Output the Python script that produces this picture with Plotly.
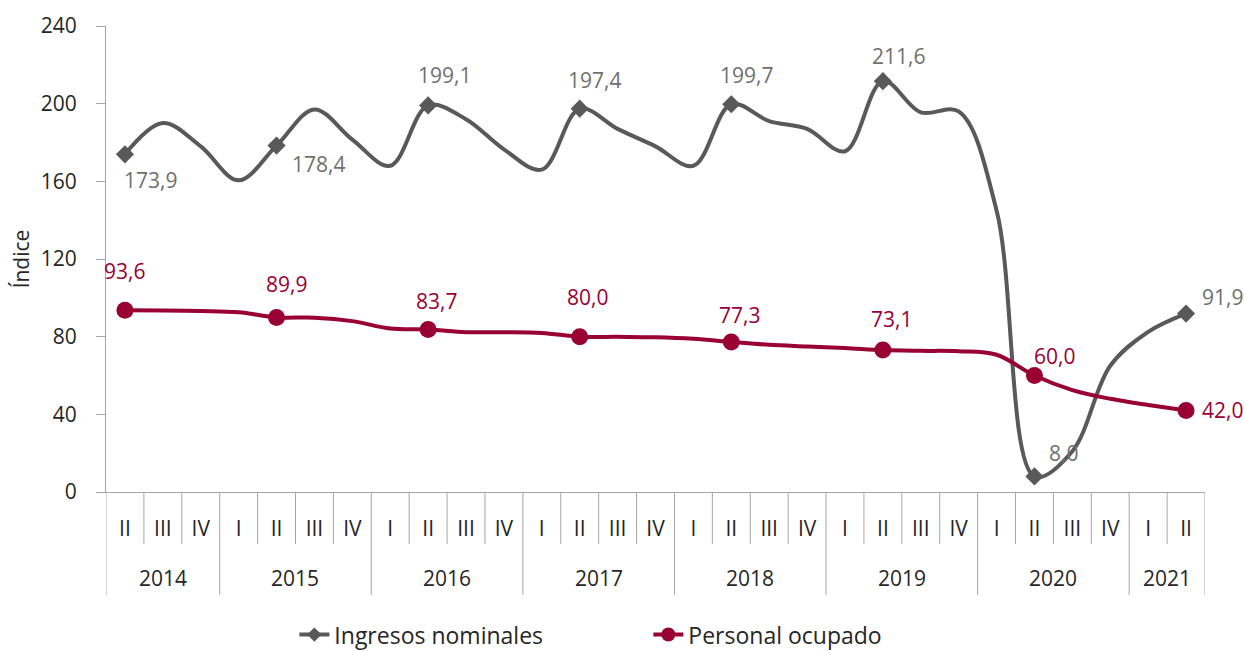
import plotly.graph_objects as go

years = ["2014"] * 3 + [y for y in ["2015", "2016", "2017", "2018", "2019", "2020"] for _ in range(4)] + ["2021"] * 2
quarters = ["II", "III", "IV"] + ["I", "II", "III", "IV"] * 6 + ["I", "II"]

ingresos = [173.9, 190.0, 178.0, 160.5, 178.4, 197.0, 181.5, 168.0, 199.1, 192.0, 176.5, 166.0,
            197.4, 187.0, 178.0, 168.0, 199.7, 191.0, 187.0, 175.5, 211.6, 195.5, 196.0, 145.0,
            8.0, 21.0, 65.0, 82.5, 91.9]
personal = [93.6, 93.5, 93.2, 92.6, 89.9, 89.8, 88.0, 84.2, 83.7, 82.3, 82.3, 81.9,
            80.0, 79.9, 79.7, 78.9, 77.3, 75.8, 75.0, 74.2, 73.1, 72.7, 72.5, 70.7,
            60.0, 52.5, 48.0, 44.8, 42.0]

y_ticks = [0, 40, 80, 120, 160, 200, 240]

GRAY = "#595959"
GRAY_TXT = "#6f6f6f"
RED = "#990033"
AXIS = "#a6a6a6"
TXT = "#262626"
FONT = "Open Sans"
FS = 21

idx = list(range(len(quarters)))
marked = [i for i, q in enumerate(quarters) if q == "II"]
PLOT_H = 466  # plot area height in px (for paper-coordinate offsets below the axis)

def fmt(v):
    return f"{v:.1f}".replace(".", ",")

fig = go.Figure()

fig.add_trace(go.Scatter(x=idx, y=ingresos, mode="lines", line=dict(color=GRAY, width=4, shape="spline", smoothing=1.0),
                         showlegend=False, hoverinfo="skip"))
fig.add_trace(go.Scatter(x=idx, y=personal, mode="lines", line=dict(color=RED, width=4, shape="spline", smoothing=1.0),
                         showlegend=False, hoverinfo="skip"))

fig.add_trace(go.Scatter(x=marked, y=[ingresos[i] for i in marked], mode="markers",
                         marker=dict(symbol="diamond", size=14, color=GRAY), showlegend=False))
fig.add_trace(go.Scatter(x=marked, y=[personal[i] for i in marked], mode="markers",
                         marker=dict(symbol="circle", size=17, color=RED), showlegend=False))

fig.add_trace(go.Scatter(x=[None], y=[None], mode="lines+markers", name="Ingresos nominales",
                         line=dict(color=GRAY, width=4), marker=dict(symbol="diamond", size=11, color=GRAY)))
fig.add_trace(go.Scatter(x=[None], y=[None], mode="lines+markers", name="Personal ocupado",
                         line=dict(color=RED, width=4), marker=dict(symbol="circle", size=14, color=RED)))

# data labels: offsets (px) from the point
ing_off = {0: (26, -26), 4: (42, -18), 8: (16, 30), 12: (15, 29), 16: (15, 29), 20: (16, 25), 24: (29, 23), 28: (36, 17)}
per_off = {0: (0, 39), 4: (10, 33), 8: (8, 28), 12: (8, 40), 16: (8, 27), 20: (9, 31), 24: (20, 20), 28: (36, 0)}
for i in marked:
    dx, dy = ing_off[i]
    fig.add_annotation(x=i, y=ingresos[i], text=fmt(ingresos[i]), showarrow=False, xshift=dx, yshift=dy,
                       font=dict(family=FONT, size=FS, color=GRAY_TXT))
    dx, dy = per_off[i]
    fig.add_annotation(x=i, y=personal[i], text=fmt(personal[i]), showarrow=False, xshift=dx, yshift=dy,
                       font=dict(family=FONT, size=FS, color=RED))

# category separators (between quarters) and year dividers
q_bottom = -52 / PLOT_H
y_bottom = -103 / PLOT_H
for k in range(len(quarters) + 1):
    xb = k - 0.5
    is_year_edge = k == 0 or k == len(quarters) or years[k] != years[k - 1]
    fig.add_shape(type="line", xref="x", yref="paper", x0=xb, x1=xb, y0=0,
                  y1=y_bottom if is_year_edge else q_bottom, line=dict(color=AXIS, width=1), layer="below")

# year labels
groups = []
for i, yv in enumerate(years):
    if not groups or groups[-1][0] != yv:
        groups.append([yv, i, i])
    else:
        groups[-1][2] = i
for yv, a, b in groups:
    fig.add_annotation(x=(a + b) / 2, y=-86 / PLOT_H, xref="x", yref="paper", text=yv, showarrow=False,
                       yanchor="middle", font=dict(family=FONT, size=FS, color=TXT))

fig.update_layout(
    width=1244, height=651,
    margin=dict(l=106, r=39, t=26, b=159, autoexpand=False),
    paper_bgcolor="white", plot_bgcolor="white",
    font=dict(family=FONT, size=FS, color=TXT),
    showlegend=True,
    legend=dict(orientation="h", x=0.4935, xanchor="center", y=-0.306, yanchor="middle",
                font=dict(family=FONT, size=23, color=TXT), entrywidth=309, entrywidthmode="pixels"),
    xaxis=dict(range=[-0.5, len(quarters) - 0.5], tickvals=idx, ticktext=quarters, ticks="",
               showline=True, linecolor=AXIS, linewidth=1, showgrid=False, zeroline=False,
               tickfont=dict(size=FS, color=TXT), ticklabelstandoff=18, automargin=False),
    yaxis=dict(range=[0, 240], tickvals=y_ticks, showline=True, linecolor=AXIS, linewidth=1,
               ticks="outside", ticklen=9, tickcolor=AXIS, showgrid=False, zeroline=False,
               tickfont=dict(size=FS, color=TXT), ticklabelstandoff=15, automargin=False,
               title=dict(text="Índice", font=dict(size=FS, color=TXT), standoff=5)),
)

fig.write_html("out.html", config={"displayModeBar": False},
               post_script="document.body.style.margin='0';document.body.style.overflow='hidden';")
